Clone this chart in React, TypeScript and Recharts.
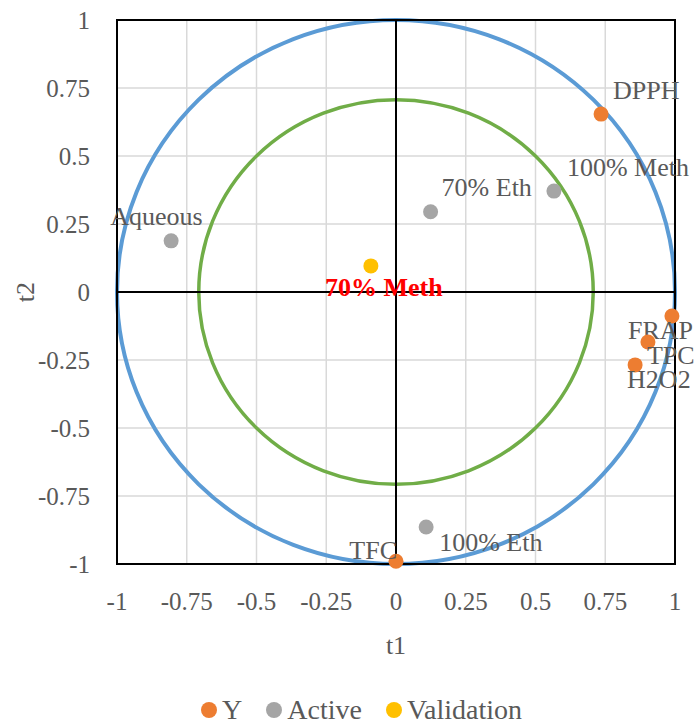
import {
  ScatterChart, Scatter, XAxis, YAxis, CartesianGrid,
  ReferenceLine, ReferenceArea, Legend,
} from 'recharts'

const FONT = '"Liberation Serif", "Times New Roman", serif'
const TEXT = '#595959'

const yNames = ['DPPH', 'FRAP', 'TPC', 'H2O2', 'TFC']
const yT1 = [0.735, 0.989, 0.903, 0.857, 0]
const yT2 = [0.654, -0.088, -0.184, -0.268, -0.99]

const activeNames = ['Aqueous', '70% Eth', '100% Meth', '100% Eth']
const activeT1 = [-0.806, 0.124, 0.566, 0.108]
const activeT2 = [0.188, 0.295, 0.371, -0.864]

const validNames = ['70% Meth']
const validT1 = [-0.09]
const validT2 = [0.096]

const seriesOrder = ['Y', 'Active', 'Validation']
const ticks = [-1, -0.75, -0.5, -0.25, 0, 0.25, 0.5, 0.75, 1]
const outerR = 1
const innerR = 0.707

// label placement relative to each point (px)
const labelPos: Record<string, { dx: number; dy: number; anchor: string }> = {
  'DPPH': { dx: 12, dy: -24, anchor: 'start' },
  'FRAP': { dx: -44, dy: 15, anchor: 'start' },
  'TPC': { dx: -1, dy: 13, anchor: 'start' },
  'H2O2': { dx: -8, dy: 15, anchor: 'start' },
  'TFC': { dx: 1, dy: -11, anchor: 'end' },
  'Aqueous': { dx: -61, dy: -24, anchor: 'start' },
  '70% Eth': { dx: 11, dy: -24, anchor: 'start' },
  '100% Meth': { dx: 13, dy: -24, anchor: 'start' },
  '100% Eth': { dx: 13, dy: 15, anchor: 'start' },
  '70% Meth': { dx: 13, dy: 22, anchor: 'middle' },
}

const toPoints = (names: string[], t1: number[], t2: number[]) =>
  names.map((name, i) => ({ name, t1: t1[i], t2: t2[i] }))

const yData = toPoints(yNames, yT1, yT2)
const activeData = toPoints(activeNames, activeT1, activeT2)
const validData = toPoints(validNames, validT1, validT2)

const dot = (color: string, labelColor = TEXT, bold = false) => (p: any) => {
  const pos = labelPos[p.payload.name] ?? { dx: 10, dy: -20, anchor: 'start' }
  return (
    <g>
      <circle cx={p.cx} cy={p.cy} r={7.5} fill={color} />
      <text x={p.cx + pos.dx} y={p.cy + pos.dy} textAnchor={pos.anchor} dominantBaseline="central"
        fontFamily={FONT} fontSize={26} fontWeight={bold ? 'bold' : 'normal'} fill={labelColor}>
        {p.payload.name}
      </text>
    </g>
  )
}

const ring = (color: string, w: number) => (p: any) => (
  <ellipse cx={p.x + p.width / 2} cy={p.y + p.height / 2} rx={p.width / 2} ry={p.height / 2}
    fill="none" stroke={color} strokeWidth={w} />
)

const xTitle = (p: any) => {
  const vb = p.viewBox
  return (
    <text x={vb.x + vb.width / 2} y={vb.y + 81} textAnchor="middle" dominantBaseline="central"
      fontFamily={FONT} fontSize={26} fill={TEXT}>t1</text>
  )
}

const yTitle = (p: any) => {
  const vb = p.viewBox
  const cx = vb.x + 25
  const cy = vb.y + vb.height / 2
  return (
    <text x={cx} y={cy} transform={`rotate(-90 ${cx} ${cy})`} textAnchor="middle" dominantBaseline="central"
      fontFamily={FONT} fontSize={26} fill={TEXT}>t2</text>
  )
}

const renderLegend = (props: any) => {
  const items = [...(props.payload ?? [])].sort(
    (a: any, b: any) => seriesOrder.indexOf(a.value) - seriesOrder.indexOf(b.value))
  return (
    <div style={{
      height: 40, paddingTop: 12, paddingLeft: 48, boxSizing: 'border-box', display: 'flex',
      justifyContent: 'center', alignItems: 'center', fontFamily: FONT, fontSize: 28, color: TEXT,
    }}>
      {items.map((e: any, i: number) => (
        <span key={i} style={{ display: 'flex', alignItems: 'center', marginRight: i < items.length - 1 ? 24 : 0 }}>
          <span style={{ width: 16, height: 16, borderRadius: 8, background: e.color, marginRight: 5 }} />
          {e.value}
        </span>
      ))}
    </div>
  )
}

export default function App() {
  return (
    <div style={{ position: 'absolute', left: 0, top: 0 }}>
      <ScatterChart width={694} height={724} margin={{ top: 20, right: 19, bottom: 0, left: 0 }}>
        <CartesianGrid stroke="#D9D9D9" strokeWidth={1.5} />
        <XAxis type="number" dataKey="t1" domain={[-1, 1]} ticks={ticks} interval={0}
          tickSize={0} tickMargin={28} tickLine={false} axisLine={false} height={120}
          tick={{ fontSize: 25, fill: TEXT, fontFamily: FONT }} label={{ content: xTitle }} />
        <YAxis type="number" dataKey="t2" domain={[-1, 1]} ticks={ticks} interval={0}
          tickSize={0} tickMargin={27} tickLine={false} axisLine={false} width={117}
          tick={{ fontSize: 25, fill: TEXT, fontFamily: FONT }} label={{ content: yTitle }} />
        <ReferenceArea x1={-outerR} x2={outerR} y1={-outerR} y2={outerR} shape={ring('#5B9BD5', 4)} />
        <ReferenceArea x1={-innerR} x2={innerR} y1={-innerR} y2={innerR} shape={ring('#70AD47', 3.5)} />
        <ReferenceLine x={0} stroke="#000" strokeWidth={2} />
        <ReferenceLine y={0} stroke="#000" strokeWidth={2} />
        <ReferenceArea x1={-1} x2={1} y1={-1} y2={1} fill="none" stroke="#000" strokeWidth={2} />
        <Scatter name="Y" data={yData} fill="#ED7D31" shape={dot('#ED7D31')} isAnimationActive={false} />
        <Scatter name="Active" data={activeData} fill="#A5A5A5" shape={dot('#A5A5A5')} isAnimationActive={false} />
        <Scatter name="Validation" data={validData} fill="#FFC000" shape={dot('#FFC000', '#FF0000', true)} isAnimationActive={false} />
        <Legend verticalAlign="bottom" content={renderLegend} />
      </ScatterChart>
    </div>
  )
}
